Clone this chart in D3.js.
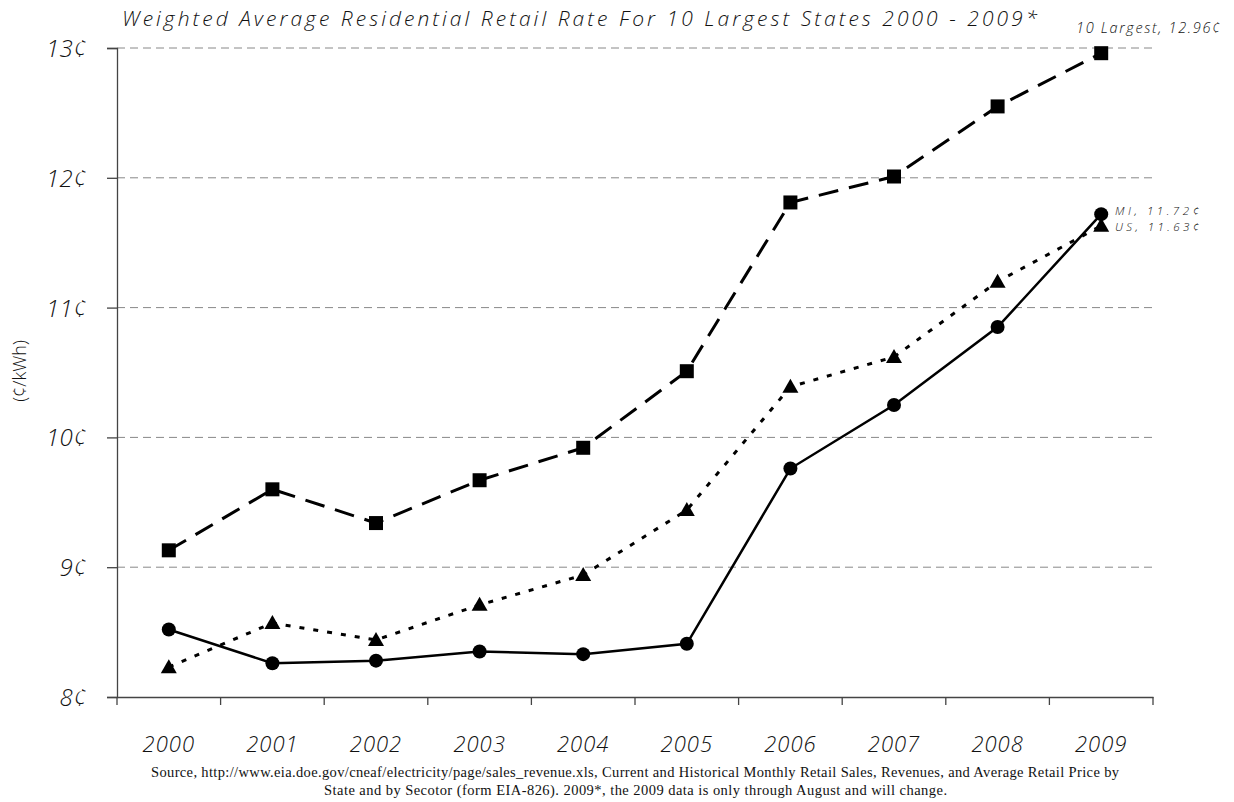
<!DOCTYPE html>
<html><head><meta charset="utf-8">
<script src="https://cdn.jsdelivr.net/npm/d3@7"></script>
<style>body{margin:0;background:#fff}</style>
</head><body>
<svg id="c" width="1234" height="802"></svg>
<script>
const years = ["2000","2001","2002","2003","2004","2005","2006","2007","2008","2009"];
const largest = [9.13, 9.60, 9.34, 9.67, 9.92, 10.51, 11.81, 12.01, 12.55, 12.96];
const mi = [8.52, 8.26, 8.28, 8.35, 8.33, 8.41, 9.76, 10.25, 10.85, 11.72];
const us = [8.23, 8.57, 8.44, 8.71, 8.94, 9.44, 10.39, 10.62, 11.20, 11.63];
const yTicks = [8, 9, 10, 11, 12, 13];
const title = "Weighted Average Residential Retail Rate For 10 Largest States 2000 - 2009*";
const source1 = "Source, http://www.eia.doe.gov/cneaf/electricity/page/sales_revenue.xls, Current and Historical Monthly Retail Sales, Revenues, and Average Retail Price by";
const source2 = "State and by Secotor (form EIA-826). 2009*, the 2009 data is only through August and will change.";

const svg = d3.select("#c");
const L = 117, R = 1153, T = 48, B = 697;
const x = d3.scaleBand().domain(years).range([L, R]);
const y = d3.scaleLinear().domain([8, 13]).range([B, T]);
const cx = d => x(d) + x.bandwidth() / 2;
const sans = "'Open Sans', 'DejaVu Sans', sans-serif";
const W = 350;

// gridlines
svg.append("g").selectAll("line").data(yTicks.slice(1)).join("line")
  .attr("x1", L).attr("x2", R).attr("y1", d => y(d)).attr("y2", d => y(d))
  .attr("stroke", "#888").attr("stroke-width", 1).attr("stroke-dasharray", "8,5");

// axes
const yAxis = svg.append("g").attr("transform", `translate(${L},0)`)
  .call(d3.axisLeft(y).tickValues(yTicks).tickSize(10).tickFormat(d => d + "¢"));
yAxis.select(".domain").attr("stroke", "#444").attr("stroke-width", 1.3);
yAxis.selectAll(".tick line").attr("stroke", "#444").attr("stroke-width", 1.3);
yAxis.selectAll(".tick text").attr("x", -30).attr("dy", "0.35em").attr("letter-spacing", "0.5")
  .style("font-family", sans).style("font-style", "italic").style("font-weight", W).style("font-size", "24px").attr("fill", "#111");

const xAxis = svg.append("g").attr("transform", `translate(0,${B})`)
  .call(d3.axisBottom(x).tickSize(0).tickSizeOuter(0));
xAxis.select(".domain").attr("stroke", "#444").attr("stroke-width", 1.3);
xAxis.selectAll(".tick line").remove();
xAxis.selectAll(".tick text").attr("y", 39).attr("letter-spacing", "1")
  .style("font-family", sans).style("font-style", "italic").style("font-weight", W).style("font-size", "22px").attr("fill", "#111");
// ticks at band boundaries
const bounds = years.map(d => x(d)).concat([R]);
svg.append("g").selectAll("line").data(bounds).join("line")
  .attr("x1", d => d).attr("x2", d => d).attr("y1", B).attr("y2", B + 8)
  .attr("stroke", "#444").attr("stroke-width", 1.3);

// lines
const line = arr => d3.line().x((d, i) => cx(years[i])).y(d => y(d))(arr);
svg.append("path").attr("d", line(largest)).attr("fill", "none").attr("stroke", "#000")
  .attr("stroke-width", 3).attr("stroke-dasharray", "20,11");
svg.append("path").attr("d", line(us)).attr("fill", "none").attr("stroke", "#000")
  .attr("stroke-width", 3).attr("stroke-dasharray", "5,9");
svg.append("path").attr("d", line(mi)).attr("fill", "none").attr("stroke", "#000")
  .attr("stroke-width", 2.5);

// markers
svg.append("g").selectAll("rect").data(largest).join("rect")
  .attr("x", (d, i) => cx(years[i]) - 7).attr("y", d => y(d) - 7)
  .attr("width", 14).attr("height", 14).attr("fill", "#000");
svg.append("g").selectAll("circle").data(mi).join("circle")
  .attr("cx", (d, i) => cx(years[i])).attr("cy", d => y(d)).attr("r", 7).attr("fill", "#000");
svg.append("g").selectAll("path").data(us).join("path")
  .attr("transform", (d, i) => `translate(${cx(years[i])},${y(d)})`)
  .attr("d", "M0,-8 L8,6 L-8,6 Z").attr("fill", "#000");

// title
svg.append("text").attr("x", 122).attr("y", 26).text(title)
  .attr("textLength", 915).attr("lengthAdjust", "spacing")
  .style("font-family", sans).style("font-style", "italic").style("font-weight", W).style("font-size", "21px")
  .attr("fill", "#111");

// y axis title
svg.append("text").attr("transform", "translate(26,371) rotate(-90)").attr("text-anchor", "middle")
  .text("(¢/kWh)").style("font-family", sans).style("font-weight", W).style("font-size", "18px").attr("fill", "#111");

// end labels
const lab = (tx, ty, t, w, fs) => svg.append("text").attr("x", tx).attr("y", ty).text(t)
  .attr("textLength", w).attr("lengthAdjust", "spacing")
  .style("font-family", sans).style("font-style", "italic").style("font-weight", W).style("font-size", fs + "px").attr("fill", "#111");
lab(1076, 33, "10 Largest, " + largest[9].toFixed(2) + "¢", 144, 14.5);
lab(1115, 215, "MI, " + mi[9].toFixed(2) + "¢", 84, 11.5);
lab(1115, 231, "US, " + us[9].toFixed(2) + "¢", 84, 11.5);

// source
const serif = "'Liberation Serif', 'Times New Roman', serif";
svg.append("text").attr("x", 151).attr("y", 777).text(source1)
  .attr("textLength", 968).attr("lengthAdjust", "spacing")
  .style("font-family", serif).style("font-size", "14.5px").attr("fill", "#111");
svg.append("text").attr("x", 324).attr("y", 795).text(source2)
  .attr("textLength", 623).attr("lengthAdjust", "spacing")
  .style("font-family", serif).style("font-size", "14.5px").attr("fill", "#111");
</script>
</body></html>
